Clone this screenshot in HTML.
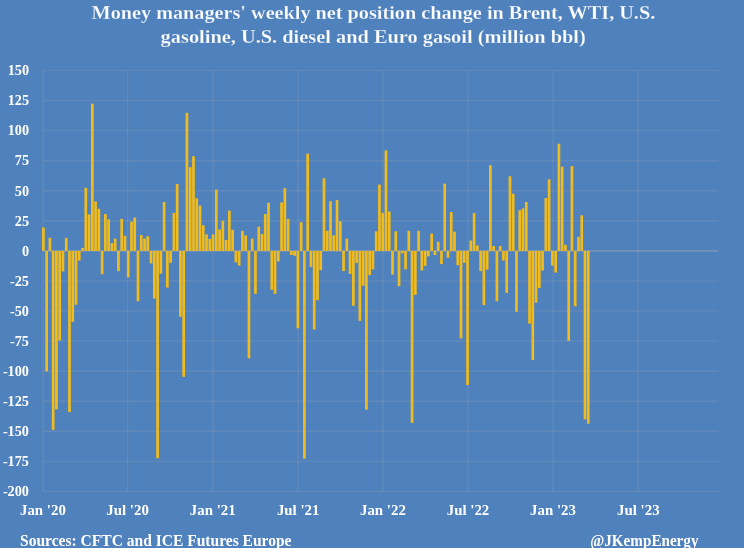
<!DOCTYPE html>
<html><head><meta charset="utf-8"><title>Money managers weekly net position change</title>
<style>html,body{margin:0;padding:0;background:#4F81BD;width:744px;height:548px;overflow:hidden}svg{display:block;filter:blur(0.55px)}text{font-family:"Liberation Serif",serif}</style>
</head><body><svg width="744" height="548" viewBox="0 0 744 548"><rect x="0" y="0" width="744" height="548" fill="#4F81BD"/><g stroke="#B0B0B0" stroke-opacity="0.17" stroke-width="1.5"><line x1="42.9" y1="70.45" x2="718.5" y2="70.45"/><line x1="42.9" y1="100.53" x2="718.5" y2="100.53"/><line x1="42.9" y1="130.60" x2="718.5" y2="130.60"/><line x1="42.9" y1="160.68" x2="718.5" y2="160.68"/><line x1="42.9" y1="190.75" x2="718.5" y2="190.75"/><line x1="42.9" y1="220.82" x2="718.5" y2="220.82"/><line x1="42.9" y1="250.90" x2="718.5" y2="250.90"/><line x1="42.9" y1="280.98" x2="718.5" y2="280.98"/><line x1="42.9" y1="311.05" x2="718.5" y2="311.05"/><line x1="42.9" y1="341.12" x2="718.5" y2="341.12"/><line x1="42.9" y1="371.20" x2="718.5" y2="371.20"/><line x1="42.9" y1="401.27" x2="718.5" y2="401.27"/><line x1="42.9" y1="431.35" x2="718.5" y2="431.35"/><line x1="42.9" y1="461.43" x2="718.5" y2="461.43"/><line x1="42.9" y1="491.50" x2="718.5" y2="491.50"/><line x1="42.90" y1="70.45" x2="42.90" y2="491.50"/><line x1="127.60" y1="70.45" x2="127.60" y2="491.50"/><line x1="212.80" y1="70.45" x2="212.80" y2="491.50"/><line x1="298.20" y1="70.45" x2="298.20" y2="491.50"/><line x1="382.90" y1="70.45" x2="382.90" y2="491.50"/><line x1="468.00" y1="70.45" x2="468.00" y2="491.50"/><line x1="553.00" y1="70.45" x2="553.00" y2="491.50"/><line x1="638.30" y1="70.45" x2="638.30" y2="491.50"/></g><line x1="42.9" y1="250.90" x2="718.5" y2="250.90" stroke="#B4B4AC" stroke-opacity="0.5" stroke-width="1"/><g fill="#F0BB1C"><rect x="42.03" y="227.44" width="2.7" height="23.46"/><rect x="45.29" y="250.90" width="2.7" height="120.54"/><rect x="48.56" y="237.79" width="2.7" height="13.11"/><rect x="51.82" y="250.90" width="2.7" height="178.89"/><rect x="55.08" y="250.90" width="2.7" height="158.44"/><rect x="58.34" y="250.90" width="2.7" height="89.62"/><rect x="61.61" y="250.90" width="2.7" height="20.57"/><rect x="64.87" y="237.79" width="2.7" height="13.11"/><rect x="68.13" y="250.90" width="2.7" height="161.20"/><rect x="71.40" y="250.90" width="2.7" height="70.98"/><rect x="74.66" y="250.90" width="2.7" height="53.89"/><rect x="77.92" y="250.90" width="2.7" height="9.62"/><rect x="81.18" y="247.89" width="2.7" height="3.01"/><rect x="84.45" y="187.74" width="2.7" height="63.16"/><rect x="87.71" y="214.33" width="2.7" height="36.57"/><rect x="90.97" y="103.65" width="2.7" height="147.25"/><rect x="94.23" y="201.46" width="2.7" height="49.44"/><rect x="97.50" y="208.80" width="2.7" height="42.10"/><rect x="100.76" y="250.90" width="2.7" height="23.34"/><rect x="104.02" y="213.97" width="2.7" height="36.93"/><rect x="107.29" y="219.38" width="2.7" height="31.52"/><rect x="110.55" y="243.20" width="2.7" height="7.70"/><rect x="113.81" y="238.63" width="2.7" height="12.27"/><rect x="117.07" y="250.90" width="2.7" height="20.21"/><rect x="120.34" y="218.90" width="2.7" height="32.00"/><rect x="123.60" y="235.74" width="2.7" height="15.16"/><rect x="126.86" y="250.90" width="2.7" height="26.47"/><rect x="130.13" y="221.67" width="2.7" height="29.23"/><rect x="133.39" y="217.58" width="2.7" height="33.32"/><rect x="136.65" y="250.90" width="2.7" height="50.29"/><rect x="139.91" y="235.02" width="2.7" height="15.88"/><rect x="143.18" y="238.63" width="2.7" height="12.27"/><rect x="146.44" y="236.22" width="2.7" height="14.68"/><rect x="149.70" y="250.90" width="2.7" height="12.51"/><rect x="152.97" y="250.90" width="2.7" height="47.64"/><rect x="156.23" y="250.90" width="2.7" height="207.28"/><rect x="159.49" y="250.90" width="2.7" height="22.86"/><rect x="162.75" y="202.06" width="2.7" height="48.84"/><rect x="166.02" y="250.90" width="2.7" height="36.69"/><rect x="169.28" y="250.90" width="2.7" height="12.03"/><rect x="172.54" y="213.01" width="2.7" height="37.89"/><rect x="175.80" y="184.01" width="2.7" height="66.89"/><rect x="179.07" y="250.90" width="2.7" height="65.80"/><rect x="182.33" y="250.90" width="2.7" height="125.95"/><rect x="185.59" y="112.80" width="2.7" height="138.10"/><rect x="188.86" y="167.17" width="2.7" height="83.73"/><rect x="192.12" y="156.22" width="2.7" height="94.68"/><rect x="195.38" y="198.21" width="2.7" height="52.69"/><rect x="198.64" y="205.55" width="2.7" height="45.35"/><rect x="201.91" y="225.28" width="2.7" height="25.62"/><rect x="205.17" y="234.42" width="2.7" height="16.48"/><rect x="208.43" y="238.99" width="2.7" height="11.91"/><rect x="211.70" y="234.42" width="2.7" height="16.48"/><rect x="214.96" y="189.55" width="2.7" height="61.35"/><rect x="218.22" y="229.49" width="2.7" height="21.41"/><rect x="221.48" y="220.70" width="2.7" height="30.20"/><rect x="224.75" y="239.95" width="2.7" height="10.95"/><rect x="228.01" y="210.60" width="2.7" height="40.30"/><rect x="231.27" y="229.85" width="2.7" height="21.05"/><rect x="234.54" y="250.90" width="2.7" height="11.43"/><rect x="237.80" y="250.90" width="2.7" height="14.68"/><rect x="241.06" y="230.81" width="2.7" height="20.09"/><rect x="244.32" y="235.38" width="2.7" height="15.52"/><rect x="247.59" y="250.90" width="2.7" height="107.43"/><rect x="250.85" y="238.63" width="2.7" height="12.27"/><rect x="254.11" y="250.90" width="2.7" height="42.95"/><rect x="257.37" y="226.72" width="2.7" height="24.18"/><rect x="260.64" y="234.06" width="2.7" height="16.84"/><rect x="263.90" y="213.97" width="2.7" height="36.93"/><rect x="267.16" y="202.78" width="2.7" height="48.12"/><rect x="270.43" y="250.90" width="2.7" height="38.86"/><rect x="273.69" y="250.90" width="2.7" height="42.95"/><rect x="276.95" y="250.90" width="2.7" height="10.47"/><rect x="280.21" y="202.42" width="2.7" height="48.48"/><rect x="283.48" y="188.10" width="2.7" height="62.80"/><rect x="286.74" y="218.90" width="2.7" height="32.00"/><rect x="290.00" y="250.90" width="2.7" height="4.09"/><rect x="293.27" y="250.90" width="2.7" height="4.81"/><rect x="296.53" y="250.90" width="2.7" height="77.35"/><rect x="299.79" y="222.15" width="2.7" height="28.75"/><rect x="303.05" y="250.90" width="2.7" height="207.76"/><rect x="306.32" y="153.70" width="2.7" height="97.20"/><rect x="309.58" y="250.90" width="2.7" height="16.00"/><rect x="312.84" y="250.90" width="2.7" height="78.68"/><rect x="316.11" y="250.90" width="2.7" height="49.32"/><rect x="319.37" y="250.90" width="2.7" height="19.25"/><rect x="322.63" y="178.24" width="2.7" height="72.66"/><rect x="325.89" y="230.81" width="2.7" height="20.09"/><rect x="329.16" y="201.10" width="2.7" height="49.80"/><rect x="332.42" y="235.38" width="2.7" height="15.52"/><rect x="335.68" y="200.13" width="2.7" height="50.77"/><rect x="338.94" y="221.31" width="2.7" height="29.59"/><rect x="342.21" y="250.90" width="2.7" height="20.21"/><rect x="345.47" y="238.63" width="2.7" height="12.27"/><rect x="348.73" y="250.90" width="2.7" height="22.98"/><rect x="352.00" y="250.90" width="2.7" height="54.86"/><rect x="355.26" y="250.90" width="2.7" height="12.03"/><rect x="358.52" y="250.90" width="2.7" height="70.01"/><rect x="361.78" y="250.90" width="2.7" height="34.89"/><rect x="365.05" y="250.90" width="2.7" height="158.80"/><rect x="368.31" y="250.90" width="2.7" height="24.18"/><rect x="371.57" y="250.90" width="2.7" height="18.41"/><rect x="374.84" y="231.29" width="2.7" height="19.61"/><rect x="378.10" y="184.61" width="2.7" height="66.29"/><rect x="381.36" y="213.01" width="2.7" height="37.89"/><rect x="384.62" y="150.33" width="2.7" height="100.57"/><rect x="387.89" y="211.56" width="2.7" height="39.34"/><rect x="391.15" y="250.90" width="2.7" height="23.70"/><rect x="394.41" y="231.29" width="2.7" height="19.61"/><rect x="397.68" y="250.90" width="2.7" height="35.25"/><rect x="400.94" y="250.90" width="2.7" height="2.41"/><rect x="404.20" y="250.90" width="2.7" height="18.41"/><rect x="407.46" y="230.81" width="2.7" height="20.09"/><rect x="410.73" y="250.90" width="2.7" height="172.03"/><rect x="413.99" y="250.90" width="2.7" height="43.91"/><rect x="417.25" y="230.81" width="2.7" height="20.09"/><rect x="420.51" y="250.90" width="2.7" height="19.61"/><rect x="423.78" y="250.90" width="2.7" height="15.04"/><rect x="427.04" y="250.90" width="2.7" height="5.41"/><rect x="430.30" y="233.58" width="2.7" height="17.32"/><rect x="433.57" y="250.90" width="2.7" height="4.09"/><rect x="436.83" y="241.76" width="2.7" height="9.14"/><rect x="440.09" y="250.90" width="2.7" height="13.23"/><rect x="443.35" y="183.65" width="2.7" height="67.25"/><rect x="446.62" y="250.90" width="2.7" height="6.86"/><rect x="449.88" y="212.04" width="2.7" height="38.86"/><rect x="453.14" y="231.65" width="2.7" height="19.25"/><rect x="456.41" y="250.90" width="2.7" height="14.20"/><rect x="459.67" y="250.90" width="2.7" height="87.46"/><rect x="462.93" y="250.90" width="2.7" height="11.91"/><rect x="466.19" y="250.90" width="2.7" height="134.13"/><rect x="469.46" y="240.55" width="2.7" height="10.35"/><rect x="472.72" y="213.01" width="2.7" height="37.89"/><rect x="475.98" y="245.49" width="2.7" height="5.41"/><rect x="479.25" y="250.90" width="2.7" height="20.21"/><rect x="482.51" y="250.90" width="2.7" height="54.14"/><rect x="485.77" y="250.90" width="2.7" height="18.77"/><rect x="489.03" y="165.13" width="2.7" height="85.77"/><rect x="492.30" y="245.97" width="2.7" height="4.93"/><rect x="495.56" y="250.90" width="2.7" height="50.29"/><rect x="498.82" y="245.97" width="2.7" height="4.93"/><rect x="502.08" y="250.90" width="2.7" height="9.62"/><rect x="505.35" y="250.90" width="2.7" height="42.10"/><rect x="508.61" y="176.19" width="2.7" height="74.71"/><rect x="511.87" y="193.76" width="2.7" height="57.14"/><rect x="515.14" y="250.90" width="2.7" height="60.87"/><rect x="518.40" y="210.24" width="2.7" height="40.66"/><rect x="521.66" y="208.43" width="2.7" height="42.47"/><rect x="524.92" y="202.06" width="2.7" height="48.84"/><rect x="528.19" y="250.90" width="2.7" height="72.78"/><rect x="531.45" y="250.90" width="2.7" height="109.11"/><rect x="534.71" y="250.90" width="2.7" height="51.73"/><rect x="537.98" y="250.90" width="2.7" height="37.05"/><rect x="541.24" y="250.90" width="2.7" height="19.61"/><rect x="544.50" y="197.97" width="2.7" height="52.93"/><rect x="547.76" y="179.32" width="2.7" height="71.58"/><rect x="551.03" y="250.90" width="2.7" height="14.68"/><rect x="554.29" y="250.90" width="2.7" height="21.65"/><rect x="557.55" y="143.71" width="2.7" height="107.19"/><rect x="560.82" y="166.69" width="2.7" height="84.21"/><rect x="564.08" y="244.88" width="2.7" height="6.02"/><rect x="567.34" y="250.90" width="2.7" height="89.98"/><rect x="570.60" y="166.09" width="2.7" height="84.81"/><rect x="573.87" y="250.90" width="2.7" height="55.34"/><rect x="577.13" y="236.95" width="2.7" height="13.95"/><rect x="580.39" y="215.29" width="2.7" height="35.61"/><rect x="583.65" y="250.90" width="2.7" height="168.42"/><rect x="586.92" y="250.90" width="2.7" height="172.75"/></g><g font-family="Liberation Serif" font-weight="bold" font-size="15.5" fill="#FFFFFF" text-anchor="end"><text transform="translate(29.0,75.25) scale(0.92,1)">150</text><text transform="translate(29.0,105.33) scale(0.92,1)">125</text><text transform="translate(29.0,135.40) scale(0.92,1)">100</text><text transform="translate(29.0,165.48) scale(0.92,1)">75</text><text transform="translate(29.0,195.55) scale(0.92,1)">50</text><text transform="translate(29.0,225.62) scale(0.92,1)">25</text><text transform="translate(29.0,255.70) scale(0.92,1)">0</text><text transform="translate(29.0,285.78) scale(0.92,1)">-25</text><text transform="translate(29.0,315.85) scale(0.92,1)">-50</text><text transform="translate(29.0,345.93) scale(0.92,1)">-75</text><text transform="translate(29.0,376.00) scale(0.92,1)">-100</text><text transform="translate(29.0,406.07) scale(0.92,1)">-125</text><text transform="translate(29.0,436.15) scale(0.92,1)">-150</text><text transform="translate(29.0,466.23) scale(0.92,1)">-175</text><text transform="translate(29.0,496.30) scale(0.92,1)">-200</text></g><g font-family="Liberation Serif" font-weight="bold" font-size="15.5" fill="#FFFFFF" text-anchor="middle"><text transform="translate(42.90,515) scale(0.96,1)">Jan &#39;20</text><text transform="translate(127.60,515) scale(0.96,1)">Jul &#39;20</text><text transform="translate(212.80,515) scale(0.96,1)">Jan &#39;21</text><text transform="translate(298.20,515) scale(0.96,1)">Jul &#39;21</text><text transform="translate(382.90,515) scale(0.96,1)">Jan &#39;22</text><text transform="translate(468.00,515) scale(0.96,1)">Jul &#39;22</text><text transform="translate(553.00,515) scale(0.96,1)">Jan &#39;23</text><text transform="translate(638.30,515) scale(0.96,1)">Jul &#39;23</text></g><g font-family="Liberation Serif" font-weight="bold" font-size="18.5" fill="#FFFFFF" stroke="#4F81BD" stroke-width="0.3" stroke-opacity="0.7"><text x="91.6" y="19.4" textLength="563.6" lengthAdjust="spacingAndGlyphs">Money managers&#39; weekly net position change in Brent, WTI, U.S.</text><text x="160.6" y="43" textLength="425.2" lengthAdjust="spacingAndGlyphs">gasoline, U.S. diesel and Euro gasoil (million bbl)</text></g><g font-family="Liberation Serif" font-weight="bold" font-size="16.5" fill="#FFFFFF"><text x="20" y="546" textLength="271.5" lengthAdjust="spacingAndGlyphs">Sources: CFTC and ICE Futures Europe</text><text x="590.2" y="546" textLength="108.3" lengthAdjust="spacingAndGlyphs">@JKempEnergy</text></g></svg></body></html>
